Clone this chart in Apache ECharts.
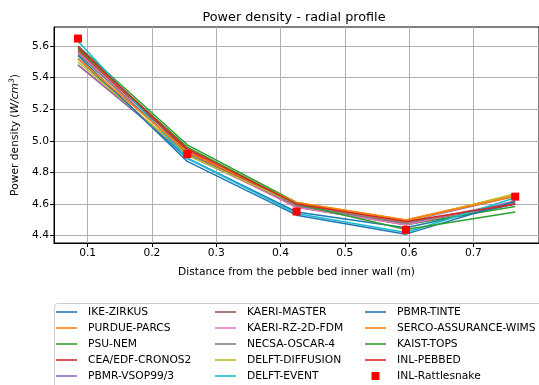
<!DOCTYPE html>
<html>
<head>
<meta charset="utf-8">
<script src="https://cdn.jsdelivr.net/npm/echarts@6/dist/echarts.min.js"></script>
<style>
html, body { margin: 0; padding: 0; background: #fff; }
#chart { width: 539px; height: 385px; }
</style>
</head>
<body>
<div id="chart"></div>
<script>
// distance from the inner wall (m)
const distances = [0.085, 0.255, 0.425, 0.595, 0.765];
const xTicks = [0.1, 0.2, 0.3, 0.4, 0.5, 0.6, 0.7];
const yTicks = [4.4, 4.6, 4.8, 5.0, 5.2, 5.4, 5.6];

const codeNames = [
	'IKE-ZIRKUS', 'PURDUE-PARCS', 'PSU-NEM', 'CEA/EDF-CRONOS2', 'PBMR-VSOP99/3',
	'KAERI-MASTER', 'KAERI-RZ-2D-FDM', 'NECSA-OSCAR-4', 'DELFT-DIFFUSION', 'DELFT-EVENT',
	'PBMR-TINTE', 'SERCO-ASSURANCE-WIMS', 'KAIST-TOPS', 'INL-PEBBED'
];

// power density values (W/cm3), one list per code
const ikeZirkus = [5.52, 4.89, 4.55, 4.45, 4.60];
const purdueParcs = [5.48, 4.92, 4.61, 4.50, 4.66];
const psuNem = [5.60, 4.975, 4.61, 4.47, 4.585];
const ceaCronos = [5.57, 4.94, 4.59, 4.48, 4.60];
const pbmrVsop = [5.48, 4.91, 4.59, 4.49, 4.65];
const kaeriMaster = [5.60, 4.93, 4.58, 4.47, 4.61];
const kaeriRz = [5.56, 4.92, 4.58, 4.47, 4.62];
const necsaOscar = [5.55, 4.92, 4.59, 4.48, 4.61];
const delftDiffusion = [5.50, 4.91, 4.60, 4.49, 4.665];
const delftEvent = [5.63, 4.89, 4.54, 4.42, 4.64];
const pbmrTinte = [5.54, 4.87, 4.53, 4.41, 4.62];
const sercoWims = [5.52, 4.93, 4.61, 4.50, 4.65];
const kaistTops = [5.58, 4.96, 4.60, 4.44, 4.55];
const inlPebbed = [5.59, 4.95, 4.60, 4.49, 4.60];
const inlRattlesnake = [5.647, 4.916, 4.553, 4.437, 4.647];

const codeValues = [
	ikeZirkus, purdueParcs, psuNem, ceaCronos, pbmrVsop,
	kaeriMaster, kaeriRz, necsaOscar, delftDiffusion, delftEvent,
	pbmrTinte, sercoWims, kaistTops, inlPebbed
];

const palette = ['#1f77b4', '#ff7f0e', '#2ca02c', '#d62728', '#9467bd',
	'#8c564b', '#e377c2', '#7f7f7f', '#bcbd22', '#17becf'];

const font = 'DejaVu Sans';
const fs = 10.7;
const pair = (vals) => distances.map((d, i) => [d, vals[i]]);
const lineIcon = 'path://M0,0L20,0L20,1.5L0,1.5Z';
const squareIcon = 'path://M0,0L8,0L8,8L0,8Z';

const series = codeNames.map((name, i) => ({
	name: name,
	type: 'line',
	symbol: 'none',
	data: pair(codeValues[i]),
	lineStyle: {width: 1.5, color: palette[i % 10]},
	itemStyle: {color: palette[i % 10]},
	emphasis: {disabled: true},
	z: 2 + i
}));

series.push({
	name: 'INL-Rattlesnake',
	type: 'scatter',
	symbol: 'rect',
	symbolSize: 8,
	data: pair(inlRattlesnake),
	itemStyle: {color: '#ff0000', opacity: 1},
	emphasis: {disabled: true},
	z: 30
});

const legendItems = (names) => names.map((n) => ({
	name: n,
	icon: n === 'INL-Rattlesnake' ? squareIcon : lineIcon
}));

const legendBase = {
	orient: 'vertical',
	top: 304,
	padding: 0,
	itemWidth: 21,
	itemHeight: 8,
	itemGap: 0,
	symbolKeepAspect: true,
	textStyle: {fontFamily: font, fontSize: fs, color: '#000', lineHeight: 16, padding: [0, 0, 0, 6]}
};

const axisText = {fontFamily: font, fontSize: fs, color: '#000'};

const chart = echarts.init(document.getElementById('chart'));
chart.setOption({
	animation: false,
	title: {
		text: 'Power density - radial profile',
		left: 289,
		top: 6,
		textAlign: 'center',
		textStyle: {fontFamily: font, fontSize: 12.8, fontWeight: 'normal', color: '#000'}
	},
	grid: {left: 53, top: 27, right: -4, bottom: 142, show: true, borderColor: '#000', borderWidth: 1},
	xAxis: {
		type: 'value',
		min: 0.0477,
		max: 0.802,
		name: 'Distance from the pebble bed inner wall (m)',
		nameLocation: 'middle',
		nameGap: 24,
		nameTextStyle: axisText,
		axisLine: {lineStyle: {color: '#000'}},
		axisTick: {length: 4, customValues: xTicks, lineStyle: {color: '#000'}},
		axisLabel: Object.assign({margin: 5, customValues: xTicks, formatter: (v) => v.toFixed(1)}, axisText),
		splitLine: {show: true, lineStyle: {color: '#b0b0b0', width: 1}}
	},
	yAxis: {
		type: 'value',
		min: 4.354,
		max: 5.72,
		name: 'Power density ({i|W/cm}{s|3})',
		nameLocation: 'middle',
		nameGap: 32,
		nameTextStyle: Object.assign({
			rich: {
				i: {fontFamily: font, fontSize: fs, fontStyle: 'italic', color: '#000'},
				s: {fontFamily: font, fontSize: 7.5, fontStyle: 'italic', color: '#000', verticalAlign: 'top', padding: [0, 0, 6, 0]}
			}
		}, axisText),
		axisLine: {show: true, lineStyle: {color: '#000'}},
		axisTick: {show: true, length: 4, customValues: yTicks, lineStyle: {color: '#000'}},
		axisLabel: Object.assign({margin: 5, customValues: yTicks, formatter: (v) => v.toFixed(1)}, axisText),
		splitLine: {show: true, lineStyle: {color: '#b0b0b0', width: 1}}
	},
	graphic: [{
		type: 'rect',
		shape: {x: 54.5, y: 303.5, width: 500, height: 100, r: 3},
		style: {fill: 'none', stroke: '#cccccc', lineWidth: 1},
		z: 0
	}],
	legend: [
		Object.assign({left: 56, data: legendItems(codeNames.slice(0, 5))}, legendBase),
		Object.assign({left: 215, data: legendItems(codeNames.slice(5, 10))}, legendBase),
		Object.assign({left: 365, data: legendItems(codeNames.slice(10).concat(['INL-Rattlesnake']))}, legendBase)
	],
	series: series
});
</script>
</body>
</html>
